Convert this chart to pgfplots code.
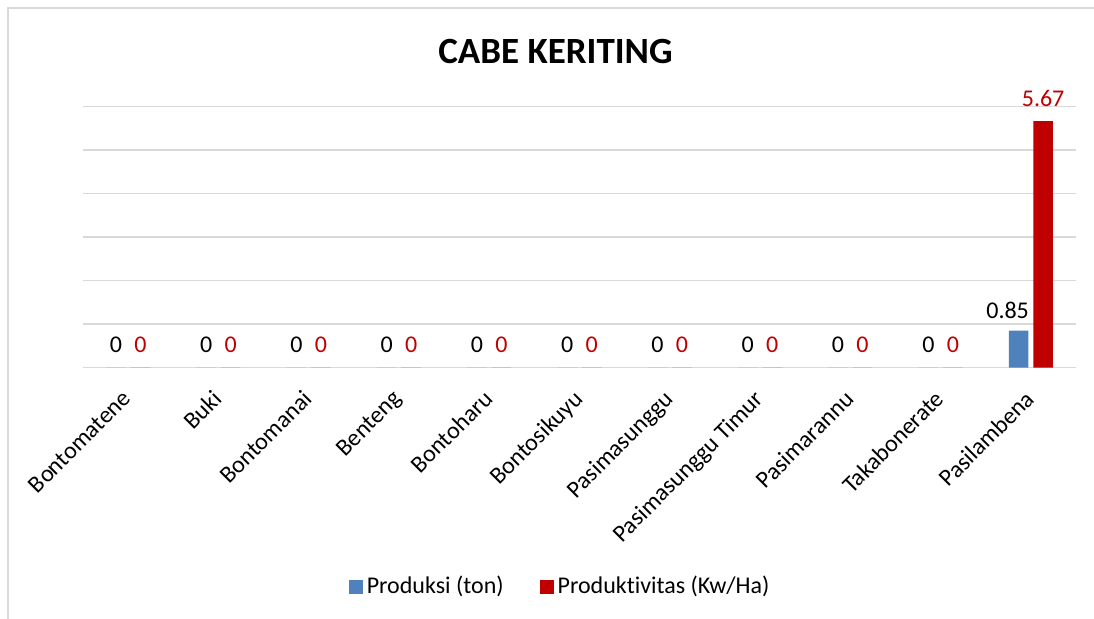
\documentclass[border=0pt]{standalone}
\usepackage{fontspec}
\setmainfont{Carlito}[Ligatures=NoCommon]
\usepackage{pgfplots}
\pgfplotsset{compat=1.18}
\definecolor{cblue}{HTML}{4F81BD}
\definecolor{cred}{HTML}{C00000}
\definecolor{cgrid}{HTML}{D9D9D9}
\begin{document}
\begin{tikzpicture}
\path[use as bounding box] (0,0) rectangle (547pt,309.5pt);
\draw[cgrid, line width=0.8pt] (4pt,0) -- (4pt,305.5pt) -- (547pt,305.5pt);
\node[font=\fontsize{18.5}{22}\selectfont\bfseries] at (277.75pt,283.5pt) {CABE KERITING};
\begin{axis}[
  at={(41.5pt,125.65pt)}, anchor=south west,
  scale only axis, width=496.5pt, height=130.5pt,
  ybar=2.5pt, bar width=9.75pt,
  xmin=-0.5, xmax=10.5, ymin=0, ymax=6,
  xtick=data,
  xticklabels={Bontomatene,Buki,Bontomanai,Benteng,Bontoharu,Bontosikuyu,Pasimasunggu,Pasimasunggu Timur,Pasimarannu,Takabonerate,Pasilambena},
  ytick={0,1,2,3,4,5,6}, yticklabels={},
  ymajorgrids, grid style={cgrid, line width=0.8pt},
  major tick length=0pt,
  axis line style={draw=none},
  /pgf/number format/assume math mode=true,
  xticklabel style={font=\fontsize{12}{14}\selectfont, shift={(-3.5pt,-9pt)}, rotate=45, anchor=north east, inner sep=1pt},
  nodes near coords,
  every node near coord/.append style={font=\fontsize{12}{14}\selectfont, anchor=center, yshift=11.5pt},
  legend style={at={(0.4815,0)}, anchor=center, yshift=-109.5pt, draw=none, font=\fontsize{12}{14}\selectfont, legend columns=2, /tikz/every even column/.append style={column sep=16pt}},
  legend image code/.code={\fill[#1] (0pt,-3.5pt) rectangle (7pt,3.5pt);},
]
\addplot[fill=cblue, draw=none, visualization depends on={x \as \myx}, every node near coord/.append style={text=black, xshift={-5.5pt*(\myx>9.5)}, yshift={-1.5pt*(\myx>9.5)}}] coordinates {(0,0) (1,0) (2,0) (3,0) (4,0) (5,0) (6,0) (7,0) (8,0) (9,0) (10,0.85)};
\addplot[fill=cred, draw=none, every node near coord/.append style={text=cred}] coordinates {(0,0) (1,0) (2,0) (3,0) (4,0) (5,0) (6,0) (7,0) (8,0) (9,0) (10,5.67)};
\legend{Produksi (ton), Produktivitas (Kw/Ha)}
\end{axis}
\end{tikzpicture}
\end{document}
